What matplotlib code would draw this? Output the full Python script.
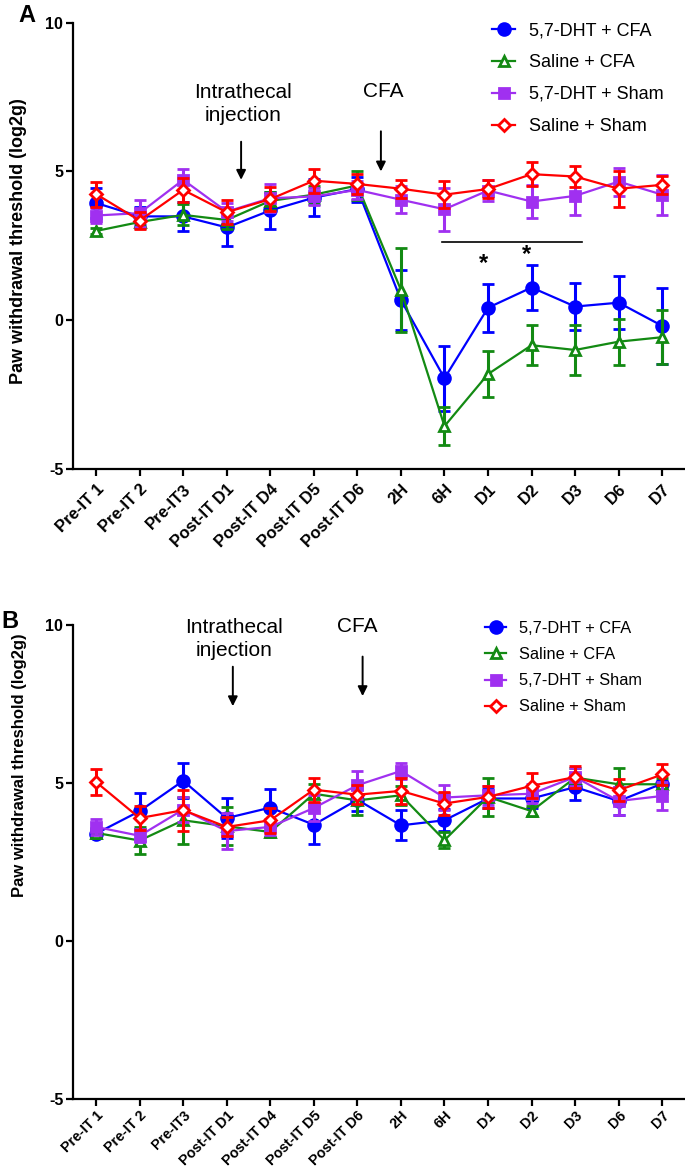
import numpy as np
import matplotlib.pyplot as plt
from matplotlib.lines import Line2D

plt.rcParams['font.family'] = ['Liberation Sans', 'DejaVu Sans']
plt.rcParams['axes.unicode_minus'] = False

timepoints = ["Pre-IT 1", "Pre-IT 2", "Pre-IT3", "Post-IT D1", "Post-IT D4",
              "Post-IT D5", "Post-IT D6", "2H", "6H", "D1", "D2", "D3", "D6", "D7"]
groups = ["5,7-DHT + CFA", "Saline + CFA", "5,7-DHT + Sham", "Saline + Sham"]

# panel A: means and SEM (log2 g)
a_dht_cfa = [3.94, 3.49, 3.49, 3.12, 3.69, 4.12, 4.41, 0.68, -1.95, 0.42, 1.10, 0.46, 0.59, -0.19]
a_dht_cfa_err = [0.5, 0.3, 0.5, 0.64, 0.63, 0.62, 0.42, 1.0, 1.1, 0.8, 0.74, 0.8, 0.88, 1.27]
a_sal_cfa = [3.0, 3.30, 3.54, 3.37, 4.01, 4.22, 4.53, 1.02, -3.56, -1.81, -0.84, -1.0, -0.72, -0.57]
a_sal_cfa_err = [0.1, 0.2, 0.35, 0.3, 0.3, 0.3, 0.5, 1.4, 0.65, 0.77, 0.68, 0.85, 0.77, 0.9]
a_dht_sham = [3.52, 3.6, 4.72, 3.65, 4.10, 4.16, 4.38, 4.05, 3.73, 4.36, 3.99, 4.18, 4.66, 4.22]
a_dht_sham_err = [0.25, 0.45, 0.37, 0.3, 0.47, 0.3, 0.3, 0.45, 0.73, 0.35, 0.55, 0.65, 0.47, 0.67]
a_sal_sham = [4.24, 3.35, 4.38, 3.63, 4.07, 4.69, 4.58, 4.42, 4.22, 4.41, 4.91, 4.83, 4.42, 4.55]
a_sal_sham_err = [0.42, 0.3, 0.4, 0.4, 0.4, 0.4, 0.35, 0.3, 0.45, 0.3, 0.4, 0.35, 0.6, 0.3]

# panel B
b_dht_cfa = [3.40, 4.11, 5.07, 3.89, 4.22, 3.68, 4.47, 3.66, 3.82, 4.51, 4.51, 4.87, 4.43, 4.98]
b_dht_cfa_err = [0.15, 0.58, 0.55, 0.63, 0.6, 0.6, 0.35, 0.47, 0.35, 0.3, 0.3, 0.4, 0.45, 0.3]
b_sal_cfa = [3.42, 3.18, 3.82, 3.63, 3.45, 4.66, 4.45, 4.61, 3.19, 4.56, 4.11, 5.17, 4.96, 4.96]
b_sal_cfa_err = [0.15, 0.42, 0.75, 0.6, 0.15, 0.3, 0.47, 0.3, 0.25, 0.6, 0.15, 0.3, 0.5, 0.2]
b_dht_sham = [3.61, 3.33, 4.16, 3.48, 3.61, 4.21, 4.93, 5.38, 4.54, 4.61, 4.66, 5.19, 4.43, 4.59]
b_dht_sham_err = [0.25, 0.2, 0.4, 0.58, 0.25, 0.4, 0.45, 0.25, 0.4, 0.3, 0.3, 0.3, 0.45, 0.45]
b_sal_sham = [5.03, 3.89, 4.14, 3.61, 3.82, 4.79, 4.63, 4.75, 4.35, 4.56, 4.91, 5.19, 4.77, 5.27]
b_sal_sham_err = [0.4, 0.38, 0.65, 0.3, 0.4, 0.38, 0.3, 0.4, 0.35, 0.35, 0.4, 0.35, 0.35, 0.32]

colors = ["#0000FF", "#138A13", "#A030F0", "#FF0000"]
markers = ["o", "^", "s", "D"]
msizes = [8.5, 7.5, 6.5, 6.5]
faces = ["#0000FF", "white", "#A030F0", "white"]

W, H = 685, 1167
fig = plt.figure(figsize=(W / 100, H / 100), dpi=100)
arrow = dict(arrowstyle="-|>", color="black", lw=1.4, mutation_scale=14, shrinkA=0, shrinkB=0)


def panel(rect, means, errs, ylab_y, ylab_size, leg_anchor, leg_size, leg_space, xt_size, xt_pad):
    ax = fig.add_axes(rect)
    x = np.arange(len(timepoints))
    handles = []
    for i in range(4):
        c = colors[i]
        ax.errorbar(x, means[i], yerr=errs[i], color=c, lw=1.6,
                    marker=markers[i], ms=msizes[i], mfc=faces[i], mec=c, mew=2,
                    elinewidth=2.2, capsize=4, capthick=2.2, zorder=3 + i)
        handles.append(Line2D([], [], color=c, lw=1.6, marker=markers[i], ms=msizes[i],
                              mfc=faces[i], mec=c, mew=2))
    ax.set_xlim(-0.53, 13.5)
    ax.set_ylim(-5, 10)
    ax.set_yticks([-5, 0, 5, 10])
    ax.set_xticks(x)
    ax.set_xticklabels(timepoints, rotation=45, ha="right", rotation_mode="anchor",
                       fontsize=xt_size, fontweight="bold")
    for t in ax.get_yticklabels():
        t.set_fontsize(11.5)
        t.set_fontweight("bold")
    for s in ["top", "right"]:
        ax.spines[s].set_visible(False)
    for s in ["left", "bottom"]:
        ax.spines[s].set_linewidth(1.6)
    ax.tick_params(width=1.6, length=5, pad=2)
    ax.tick_params(axis="x", pad=xt_pad)
    ax.set_ylabel("Paw withdrawal threshold (log2g)", fontsize=ylab_size, fontweight="bold")
    ax.yaxis.set_label_coords(-0.075, ylab_y)
    ax.legend(handles, groups, loc="upper left", bbox_to_anchor=leg_anchor,
              bbox_transform=fig.transFigure, frameon=False, fontsize=leg_size,
              handlelength=1.3, handletextpad=0.75, labelspacing=leg_space,
              borderpad=0, borderaxespad=0)
    return ax


ax_a = panel([73 / W, 1 - 469 / H, (684 - 73) / W, (469 - 22.7) / H],
             [a_dht_cfa, a_sal_cfa, a_dht_sham, a_sal_sham],
             [a_dht_cfa_err, a_sal_cfa_err, a_dht_sham_err, a_sal_sham_err],
             0.51, 13, (492 / W, 1 - 22 / H), 13, 0.83, 12, 4)
ax_b = panel([73 / W, 1 - 1099 / H, (684 - 73) / W, (1099 - 625) / H],
             [b_dht_cfa, b_sal_cfa, b_dht_sham, b_sal_sham],
             [b_dht_cfa_err, b_sal_cfa_err, b_dht_sham_err, b_sal_sham_err],
             0.705, 12, (485 / W, 1 - 621 / H), 11.8, 0.68, 10.3, 1.5)

# annotations panel A
ax_a.text(3.37, 7.28, "Intrathecal\ninjection", ha="center", va="center", fontsize=15,
          linespacing=1.25)
ax_a.annotate("", xy=(3.33, 4.72), xytext=(3.33, 6.0), arrowprops=arrow)
ax_a.text(6.6, 7.68, "CFA", ha="center", va="center", fontsize=15)
ax_a.annotate("", xy=(6.54, 5.0), xytext=(6.54, 6.35), arrowprops=arrow)
ax_a.plot([7.95, 11.15], [2.64, 2.64], color="black", lw=1.2)
ax_a.text(8.9, 1.9, "*", ha="center", va="center", fontsize=17, fontweight="bold")
ax_a.text(9.88, 2.2, "*", ha="center", va="center", fontsize=17, fontweight="bold")

# annotations panel B
ax_b.text(3.17, 9.55, "Intrathecal\ninjection", ha="center", va="center", fontsize=15,
          linespacing=1.25)
ax_b.annotate("", xy=(3.14, 7.43), xytext=(3.14, 8.68), arrowprops=arrow)
ax_b.text(5.99, 9.95, "CFA", ha="center", va="center", fontsize=15)
ax_b.annotate("", xy=(6.12, 7.75), xytext=(6.12, 9.0), arrowprops=arrow)

fig.text(27 / W, 1 - 15 / H, "A", fontsize=17, fontweight="bold", ha="center", va="center")
fig.text(10 / W, 1 - 622 / H, "B", fontsize=17, fontweight="bold", ha="center", va="center")

fig.savefig("out.png", dpi=100)
